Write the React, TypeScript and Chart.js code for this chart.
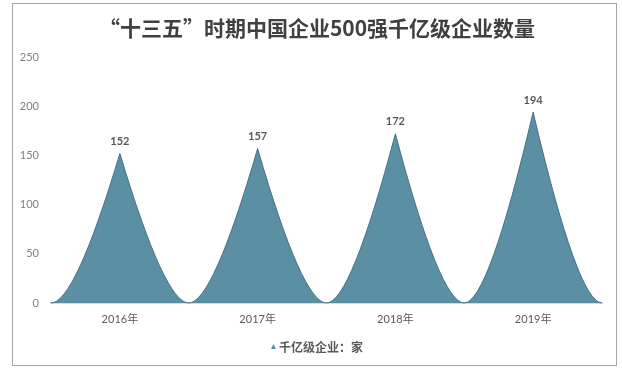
import React, { useEffect, useRef } from "react";
import { Chart, registerables } from "chart.js";

Chart.register(...registerables);

const TITLE = "“十三五”时期中国企业500强千亿级企业数量";
const categories = ["2016年", "2017年", "2018年", "2019年"];
const values = [152, 157, 172, 194];
const seriesName = "千亿级企业：家";
const yMin = 0;
const yMax = 250;
const yStep = 50;

const FILL = "#5b8fa4";
const EDGE = "#477284";
const FONT = "Lato, 'Noto Sans CJK SC', sans-serif";
const CJK = "'Noto Sans CJK SC', sans-serif";

const framePlugin = {
  id: "frame",
  beforeDraw(chart: any) {
    const ctx = chart.ctx;
    ctx.save();
    ctx.fillStyle = "#ffffff";
    ctx.fillRect(0, 0, chart.width, chart.height);
    ctx.strokeStyle = "#a6a6a6";
    ctx.lineWidth = 1;
    ctx.strokeRect(12.5, 3.5, 604, 362);
    ctx.restore();
  },
  afterDraw(chart: any) {
    const ctx = chart.ctx;
    ctx.save();
    // title
    ctx.font = `bold 21px ${CJK}`;
    ctx.fillStyle = "#404040";
    ctx.textAlign = "center";
    ctx.textBaseline = "middle";
    ctx.fillText(TITLE, 317, 28);
    // legend
    const lx = 273.5;
    const ly = 347;
    ctx.beginPath();
    ctx.moveTo(lx, ly - 3);
    ctx.lineTo(lx + 2.5, ly + 2);
    ctx.lineTo(lx - 2.5, ly + 2);
    ctx.closePath();
    ctx.fillStyle = FILL;
    ctx.fill();
    ctx.font = `bold 12px ${CJK}`;
    ctx.fillStyle = "#595959";
    ctx.textAlign = "left";
    ctx.fillText(seriesName, 279, ly);
    ctx.restore();
  },
};

const spikePlugin = {
  id: "spikes",
  beforeDatasetDraw(chart: any, args: any) {
    const ctx = chart.ctx;
    const k = 0.35;
    ctx.save();
    args.meta.data.forEach((el: any) => {
      const { x, y, base, width } = el.getProps(["x", "y", "base", "width"], true);
      const half = width / 2;
      ctx.beginPath();
      ctx.moveTo(x - half, base);
      ctx.quadraticCurveTo(x - half + k * half, base, x, y);
      ctx.quadraticCurveTo(x + half - k * half, base, x + half, base);
      ctx.closePath();
      ctx.fillStyle = FILL;
      ctx.fill();
      ctx.beginPath();
      ctx.moveTo(x - half, base);
      ctx.quadraticCurveTo(x - half + k * half, base, x, y);
      ctx.quadraticCurveTo(x + half - k * half, base, x + half, base);
      ctx.strokeStyle = EDGE;
      ctx.lineWidth = 1;
      ctx.stroke();
    });
    ctx.restore();
    return false;
  },
  afterDatasetsDraw(chart: any) {
    const ctx = chart.ctx;
    const meta = chart.getDatasetMeta(0);
    ctx.save();
    ctx.font = `bold 11px ${FONT}`;
    ctx.fillStyle = "#595959";
    ctx.textAlign = "center";
    ctx.textBaseline = "middle";
    meta.data.forEach((el: any, i: number) => {
      const { x, y } = el.getProps(["x", "y"], true);
      ctx.fillText(String(values[i]), x, y - 12);
    });
    ctx.restore();
  },
};

export default function App() {
  const ref = useRef<HTMLCanvasElement | null>(null);
  useEffect(() => {
    if (!ref.current) return;
    const chart = new Chart(ref.current, {
      type: "bar",
      data: {
        labels: categories,
        datasets: [
          {
            label: seriesName,
            data: values,
            backgroundColor: FILL,
            barPercentage: 1,
            categoryPercentage: 1,
          },
        ],
      },
      options: {
        animation: false,
        responsive: false,
        maintainAspectRatio: false,
        events: [],
        layout: { padding: { top: 57, right: 20, left: 0, bottom: 45 } },
        plugins: {
          legend: { display: false },
          title: { display: false },
          tooltip: { enabled: false },
        },
        scales: {
          x: {
            grid: { display: false, drawTicks: false },
            border: { display: true, color: "#d9d9d9", width: 2 },
            ticks: { color: "#595959", font: { family: FONT, size: 11 }, padding: 10 },
            afterFit: (s: any) => {
              s.height = 23;
            },
          },
          y: {
            min: yMin,
            max: yMax,
            grid: { display: false, drawTicks: false },
            border: { display: false },
            ticks: { stepSize: yStep, color: "#7f7f7f", font: { family: FONT, size: 11 }, padding: 12 },
            afterFit: (s: any) => {
              s.width = 51;
            },
          },
        },
      },
      plugins: [framePlugin, spikePlugin],
    });
    return () => chart.destroy();
  }, []);
  return (
    <div style={{ position: "fixed", left: 0, top: 0, width: 622, height: 371 }}>
      <canvas ref={ref} width={622} height={371} style={{ display: "block" }} />
    </div>
  );
}
